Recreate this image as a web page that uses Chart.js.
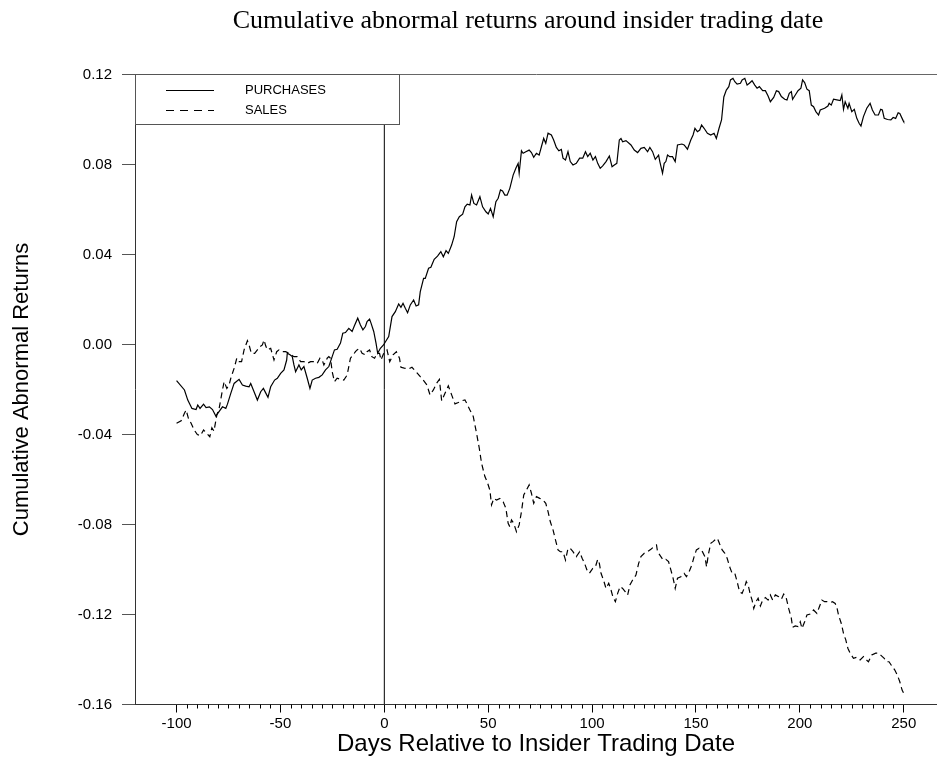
<!DOCTYPE html>
<html>
<head>
<meta charset="utf-8">
<title>Cumulative abnormal returns around insider trading date</title>
<script src="https://cdn.jsdelivr.net/npm/chart.js@4.4.1/dist/chart.umd.min.js"></script>
<style>
  html, body { margin: 0; padding: 0; background: #fff; }
  #wrap { width: 937px; height: 767px; }
</style>
</head>
<body>
<div id="wrap"><canvas id="carChart" width="937" height="767"></canvas></div>
<script>
// days relative to the insider trade
const purchaseDays = [
  -100, -96.2, -94.6, -92.6, -90.6, -89.8, -88.7, -87.0, -85.8, -84.2, -82.7, -81.1, -79.9, -77.9, -76.3, -75.5,
  -73.9, -72.3, -69.9, -68.3, -66.7, -65.1, -64.3, -62.7, -61.1, -59.5, -58.2, -57.1, -56.0, -54.7, -52.8, -51.5,
  -49.9, -48.3, -47.0, -46.7, -45.4, -44.3, -43.5, -42.7, -41.1, -40.0, -38.7, -37.1, -35.8, -34.7, -33.1, -31.5,
  -29.9, -28.3, -26.7, -25.1, -24.0, -22.7, -21.1, -20.0, -18.7, -17.1, -15.5, -14.4, -12.8, -11.5, -10.3, -9.1,
  -8.3, -7.1, -6.4, -5.1, -4.0, -3.2, -1.9, -0.4, 2.1, 3.7, 5.3, 6.9, 8.0, 9.0, 10.1, 11.2,
  12.5, 14.1, 15.3, 16.5, 17.3, 18.9, 19.7, 21.3, 22.4, 24.0, 25.6, 27.2, 28.4, 29.7, 30.8, 32.4,
  33.6, 34.8, 36.1, 37.7, 38.8, 39.9, 41.2, 42.0, 43.1, 44.4, 46.0, 47.3, 48.9, 50.0, 51.1, 52.4,
  53.7, 54.8, 55.9, 56.9, 58.0, 59.1, 60.4, 62.0, 63.3, 64.4, 64.9, 66.0, 66.8, 68.1, 69.7, 70.8,
  71.9, 73.2, 74.5, 75.6, 76.7, 77.7, 78.8, 80.4, 81.5, 82.8, 84.0, 85.2, 86.0, 87.2, 88.4, 89.5,
  90.8, 92.4, 94.0, 95.5, 96.8, 97.9, 99.1, 100.4, 101.6, 102.7, 103.9, 105.1, 106.7, 108.3, 109.6, 110.7,
  111.9, 113.1, 113.9, 114.7, 116.3, 118.7, 120.3, 121.9, 123.5, 125.1, 126.7, 127.8, 129.1, 130.4, 132.0, 132.6,
  133.9, 134.7, 135.5, 136.3, 137.4, 138.7, 140.0, 141.1, 143.2, 144.3, 145.9, 147.5, 148.6, 149.5, 150.7, 151.8,
  152.7, 153.9, 155.5, 157.1, 158.7, 159.8, 161.1, 162.3, 163.4, 164.6, 165.8, 166.6, 167.8, 168.7, 169.8, 171.4,
  172.2, 173.5, 174.6, 175.7, 177.0, 178.3, 179.4, 180.5, 182.1, 183.4, 184.7, 185.8, 187.4, 188.7, 189.8, 191.1,
  192.7, 193.8, 194.9, 195.9, 196.5, 197.8, 199.1, 200.5, 201.3, 202.3, 203.4, 204.5, 205.5, 206.6, 207.7, 209.0,
  209.8, 211.9, 213.5, 214.1, 215.1, 216.2, 217.8, 219.4, 220.2, 221.0, 221.8, 223.1, 223.7, 225.0, 226.2, 227.4,
  228.5, 229.4, 230.6, 232.2, 233.8, 234.9, 236.2, 237.8, 238.9, 239.7, 240.6, 242.2, 243.8, 244.9, 246.1, 247.3,
  248.1, 249.7, 250
];
const purchaseCar = [
  -0.0161, -0.0202, -0.0247, -0.0284, -0.0289, -0.0269, -0.0284, -0.0265, -0.0280, -0.0277, -0.0289, -0.0318, -0.0303, -0.0277, -0.0284, -0.0265,
  -0.0217, -0.0173, -0.0155, -0.0180, -0.0185, -0.0188, -0.0173, -0.0210, -0.0247, -0.0210, -0.0195, -0.0215, -0.0235, -0.0188, -0.0158, -0.0150,
  -0.0128, -0.0113, -0.0069, -0.0039, -0.0046, -0.0054, -0.0091, -0.0121, -0.0091, -0.0113, -0.0098, -0.0150, -0.0195, -0.0158, -0.0150, -0.0146,
  -0.0135, -0.0113, -0.0098, -0.0054, -0.0024, -0.0021, 0.0006, 0.0050, 0.0053, 0.0072, 0.0058, 0.0083, 0.0117, 0.0087, 0.0065, 0.0080,
  0.0102, 0.0113, 0.0095, 0.0058, 0.0006, -0.0039, -0.0017, -0.0002, 0.0035, 0.0124, 0.0146, 0.0180, 0.0165, 0.0183, 0.0161, 0.0141,
  0.0176, 0.0198, 0.0171, 0.0176, 0.0235, 0.0294, 0.0294, 0.0339, 0.0343, 0.0379, 0.0393, 0.0413, 0.0390, 0.0417, 0.0405, 0.0442,
  0.0479, 0.0546, 0.0568, 0.0579, 0.0612, 0.0624, 0.0620, 0.0664, 0.0627, 0.0620, 0.0657, 0.0612, 0.0590, 0.0580, 0.0605, 0.0568,
  0.0635, 0.0650, 0.0687, 0.0682, 0.0664, 0.0664, 0.0694, 0.0753, 0.0783, 0.0805, 0.0761, 0.0861, 0.0850, 0.0857, 0.0864, 0.0853,
  0.0832, 0.0850, 0.0842, 0.0879, 0.0916, 0.0894, 0.0939, 0.0931, 0.0909, 0.0876, 0.0861, 0.0867, 0.0828, 0.0820, 0.0857, 0.0813,
  0.0798, 0.0805, 0.0828, 0.0828, 0.0857, 0.0835, 0.0850, 0.0820, 0.0835, 0.0805, 0.0783, 0.0794, 0.0813, 0.0838, 0.0790, 0.0798,
  0.0805, 0.0909, 0.0916, 0.0901, 0.0906, 0.0887, 0.0864, 0.0853, 0.0872, 0.0876, 0.0857, 0.0876, 0.0857, 0.0823, 0.0842, 0.0813,
  0.0761, 0.0805, 0.0813, 0.0842, 0.0835, 0.0835, 0.0813, 0.0887, 0.0891, 0.0887, 0.0868, 0.0909, 0.0931, 0.0961, 0.0946, 0.0953,
  0.0976, 0.0961, 0.0939, 0.0931, 0.0939, 0.0916, 0.0961, 0.0998, 0.1100, 0.1131, 0.1146, 0.1176, 0.1183, 0.1168, 0.1157, 0.1161,
  0.1176, 0.1183, 0.1153, 0.1161, 0.1172, 0.1153, 0.1139, 0.1146, 0.1128, 0.1128, 0.1104, 0.1079, 0.1098, 0.1128, 0.1124, 0.1102,
  0.1090, 0.1087, 0.1116, 0.1124, 0.1090, 0.1109, 0.1128, 0.1139, 0.1176, 0.1164, 0.1135, 0.1128, 0.1064, 0.1057, 0.1035, 0.1020,
  0.1042, 0.1050, 0.1060, 0.1072, 0.1064, 0.1090, 0.1087, 0.1084, 0.1109, 0.1045, 0.1079, 0.1050, 0.1072, 0.1035, 0.1045, 0.1005,
  0.0983, 0.0971, 0.1013, 0.1050, 0.1072, 0.1042, 0.1020, 0.1020, 0.1045, 0.1042, 0.1005, 0.1000, 0.0998, 0.1009, 0.1005, 0.1030,
  0.1027, 0.0995, 0.0990
];

const saleDays = [
  -100, -97.8, -96.2, -95.4, -94.3, -93.0, -91.5, -90.0, -88.5, -87.0, -85.5, -84.0, -83.0, -82.0, -80.6, -79.5,
  -77.9, -77.1, -75.8, -74.7, -73.9, -72.3, -71.0, -69.9, -68.7, -67.5, -65.9, -65.1, -64.0, -62.4, -61.1, -59.8,
  -58.7, -57.9, -57.1, -56.3, -54.7, -53.1, -51.8, -50.7, -49.1, -47.5, -45.9, -44.8, -43.5, -41.9, -40.3, -38.7,
  -37.1, -35.5, -33.9, -32.3, -31.0, -29.9, -29.1, -27.5, -26.7, -25.9, -25.1, -24.0, -22.7, -21.1, -19.5, -17.9,
  -17.1, -16.3, -15.0, -13.9, -13.1, -11.9, -10.7, -9.1, -8.3, -7.1, -6.0, -4.7, -3.5, -2.3, -1.6, -0.3,
  1.3, 2.6, 4.2, 5.8, 7.3, 8.0, 9.6, 11.7, 13.3, 15.3, 17.3, 18.5, 20.5, 22.0, 23.6, 25.2,
  26.5, 27.6, 29.2, 30.8, 32.4, 34.0, 35.6, 37.2, 38.8, 40.0, 41.2, 42.8, 44.4, 45.7, 46.8, 48.4,
  49.5, 50.8, 51.6, 52.7, 54.0, 55.6, 57.2, 58.5, 59.6, 60.4, 61.2, 62.3, 63.6, 64.9, 66.0, 67.1,
  68.4, 69.7, 70.8, 71.9, 73.2, 74.8, 76.4, 77.7, 78.8, 79.9, 81.2, 82.4, 83.6, 84.7, 86.0, 87.2,
  88.4, 89.5, 90.8, 92.4, 94.0, 95.2, 96.4, 97.5, 98.7, 100.3, 101.6, 102.7, 103.5, 104.3, 105.5, 106.7,
  108.0, 109.1, 110.0, 111.2, 112.3, 113.5, 114.7, 116.0, 117.1, 118.2, 119.5, 121.1, 122.4, 123.5, 125.1, 126.7,
  128.3, 129.9, 131.0, 131.5, 133.1, 134.2, 135.5, 136.8, 137.9, 139.0, 140.0, 141.1, 142.7, 144.3, 145.4, 146.7,
  148.0, 149.1, 150.2, 151.5, 153.1, 154.3, 155.1, 155.9, 157.1, 158.2, 159.1, 160.3, 161.4, 162.6, 163.9, 165.0,
  166.2, 167.4, 168.7, 169.8, 171.0, 172.2, 173.5, 174.2, 175.1, 176.2, 177.0, 177.8, 178.9, 179.9, 181.0, 182.1,
  183.4, 184.7, 185.8, 186.9, 188.2, 189.8, 191.1, 192.2, 193.3, 194.6, 195.9, 196.5, 197.8, 199.1, 200.2, 201.0,
  202.3, 203.4, 205.0, 206.6, 208.2, 209.3, 210.6, 211.9, 213.0, 214.6, 215.7, 217.0, 217.8, 218.6, 219.9, 221.0,
  222.1, 223.1, 224.2, 225.8, 227.4, 229.0, 230.6, 231.7, 233.0, 234.6, 236.5, 237.7, 239.3, 240.6, 241.7, 242.9,
  244.5, 245.7, 246.9, 248.1, 249.2, 250
];
const saleCar = [
  -0.0350, -0.0339, -0.0306, -0.0291, -0.0328, -0.0350, -0.0380, -0.0400, -0.0405, -0.0380, -0.0395, -0.0410, -0.0370, -0.0385, -0.0313, -0.0284,
  -0.0202, -0.0165, -0.0195, -0.0180, -0.0150, -0.0106, -0.0061, -0.0076, -0.0076, -0.0024, 0.0017, -0.0002, -0.0039, -0.0039, -0.0024, -0.0009,
  -0.0002, 0.0020, -0.0006, -0.0024, -0.0017, -0.0069, -0.0032, -0.0024, -0.0032, -0.0032, -0.0039, -0.0046, -0.0054, -0.0054, -0.0076, -0.0076,
  -0.0084, -0.0076, -0.0076, -0.0084, -0.0061, -0.0069, -0.0091, -0.0061, -0.0054, -0.0061, -0.0121, -0.0165, -0.0150, -0.0155, -0.0158, -0.0136,
  -0.0098, -0.0061, -0.0046, -0.0032, -0.0024, -0.0017, -0.0039, -0.0046, -0.0032, -0.0024, -0.0054, -0.0061, -0.0039, -0.0039, -0.0069, -0.0039,
  -0.0024, -0.0076, -0.0046, -0.0032, -0.0061, -0.0101, -0.0105, -0.0109, -0.0101, -0.0121, -0.0143, -0.0155, -0.0180, -0.0224, -0.0202, -0.0172,
  -0.0155, -0.0250, -0.0217, -0.0184, -0.0224, -0.0264, -0.0258, -0.0250, -0.0246, -0.0268, -0.0291, -0.0320, -0.0395, -0.0461, -0.0528, -0.0587,
  -0.0610, -0.0647, -0.0713, -0.0684, -0.0691, -0.0684, -0.0699, -0.0728, -0.0795, -0.0810, -0.0780, -0.0795, -0.0832, -0.0802, -0.0743, -0.0669,
  -0.0647, -0.0624, -0.0661, -0.0706, -0.0676, -0.0684, -0.0691, -0.0706, -0.0743, -0.0788, -0.0824, -0.0869, -0.0913, -0.0921, -0.0921, -0.0958,
  -0.0906, -0.0906, -0.0921, -0.0943, -0.0921, -0.0950, -0.0973, -0.1002, -0.1017, -0.0995, -0.0988, -0.0955, -0.0973, -0.1017, -0.1047, -0.1084,
  -0.1061, -0.1091, -0.1121, -0.1143, -0.1106, -0.1076, -0.1084, -0.1099, -0.1114, -0.1069, -0.1047, -0.1025, -0.0973, -0.0943, -0.0928, -0.0921,
  -0.0910, -0.0898, -0.0891, -0.0921, -0.0943, -0.0958, -0.0955, -0.0965, -0.1002, -0.1039, -0.1084, -0.1039, -0.1032, -0.1017, -0.1032, -0.1010,
  -0.0980, -0.0943, -0.0913, -0.0906, -0.0921, -0.0943, -0.0988, -0.0936, -0.0884, -0.0876, -0.0869, -0.0861, -0.0887, -0.0913, -0.0928, -0.0950,
  -0.0988, -0.1017, -0.1017, -0.1054, -0.1099, -0.1106, -0.1076, -0.1054, -0.1069, -0.1113, -0.1136, -0.1173, -0.1143, -0.1128, -0.1162, -0.1136,
  -0.1125, -0.1136, -0.1113, -0.1136, -0.1113, -0.1121, -0.1132, -0.1109, -0.1121, -0.1173, -0.1217, -0.1257, -0.1251, -0.1254, -0.1232, -0.1262,
  -0.1232, -0.1202, -0.1198, -0.1180, -0.1195, -0.1168, -0.1136, -0.1143, -0.1143, -0.1147, -0.1143, -0.1151, -0.1168, -0.1202, -0.1239, -0.1284,
  -0.1313, -0.1350, -0.1372, -0.1395, -0.1390, -0.1402, -0.1387, -0.1399, -0.1410, -0.1380, -0.1372, -0.1372, -0.1384, -0.1395, -0.1410, -0.1410,
  -0.1432, -0.1447, -0.1469, -0.1499, -0.1536, -0.1550
];

const seriesNames = ['PURCHASES', 'SALES'];
const xMajorTicks = [-100, -50, 0, 50, 100, 150, 200, 250];
const xMinorStep = 5;
const yTicks = [-0.16, -0.12, -0.08, -0.04, 0.00, 0.04, 0.08, 0.12];
const eventDay = 0;

const SANS = "'Liberation Sans', Arial, sans-serif";
const SERIF = "'Liberation Serif', 'Times New Roman', serif";

function toPoints(xs, ys) {
  return xs.map((x, i) => ({ x, y: ys[i] }));
}

const isMajor = v => xMajorTicks.some(t => Math.abs(t - v) < 1e-6);
const yTop = yTicks[yTicks.length - 1];

// title, boxed legend and the short minor ticks on the day axis
const decorPlugin = {
  id: 'decor',
  afterDraw(chart) {
    const { ctx, chartArea } = chart;
    const xs = chart.scales.x;

    ctx.save();
    // minor tick marks
    ctx.strokeStyle = '#000';
    ctx.lineWidth = 1;
    xs.ticks.forEach(t => {
      if (isMajor(t.value)) return;
      const px = Math.round(xs.getPixelForValue(t.value)) + 0.5;
      ctx.beginPath();
      ctx.moveTo(px, chartArea.bottom);
      ctx.lineTo(px, chartArea.bottom + 4);
      ctx.stroke();
    });

    // legend box
    const bx = chartArea.left + 0.5, by = chartArea.top, bw = 264, bh = 50;
    ctx.fillStyle = '#fff';
    ctx.fillRect(bx, by, bw, bh);
    ctx.strokeStyle = '#555';
    ctx.strokeRect(bx, by, bw, bh);

    ctx.strokeStyle = '#000';
    ctx.lineWidth = 1;
    [[90.5, []], [110.5, [8, 6]]].forEach(([ly, dash], i) => {
      ctx.setLineDash(dash);
      ctx.beginPath();
      ctx.moveTo(166, ly);
      ctx.lineTo(214, ly);
      ctx.stroke();
      ctx.setLineDash([]);
      ctx.fillStyle = '#000';
      ctx.font = '13px ' + SANS;
      ctx.textAlign = 'left';
      ctx.textBaseline = 'middle';
      ctx.fillText(seriesNames[i], 245, ly);
    });

    // chart title
    ctx.font = '26px ' + SERIF;
    ctx.textAlign = 'center';
    ctx.textBaseline = 'middle';
    ctx.fillText('Cumulative abnormal returns around insider trading date', 528, 21);
    ctx.restore();
  }
};

new Chart(document.getElementById('carChart'), {
  type: 'line',
  data: {
    datasets: [
      {
        label: seriesNames[0],
        data: toPoints(purchaseDays, purchaseCar),
        borderColor: '#000',
        borderWidth: 1.2,
        pointRadius: 0,
        tension: 0
      },
      {
        label: seriesNames[1],
        data: toPoints(saleDays, saleCar),
        borderColor: '#000',
        borderWidth: 1.2,
        borderDash: [6, 4],
        pointRadius: 0,
        tension: 0
      },
      {
        label: 'event',
        data: [{ x: eventDay, y: yTicks[0] }, { x: eventDay, y: yTop }],
        borderColor: '#000',
        borderWidth: 1,
        pointRadius: 0
      }
    ]
  },
  options: {
    responsive: false,
    devicePixelRatio: 1,
    animation: false,
    layout: { padding: { top: 74.5, left: 0, right: 0, bottom: 0 } },
    plugins: {
      legend: { display: false },
      title: { display: false },
      tooltip: { enabled: false }
    },
    scales: {
      x: {
        type: 'linear',
        min: -120,
        max: 266,
        afterBuildTicks: scale => {
          const ticks = [];
          for (let v = xMajorTicks[0]; v <= xMajorTicks[xMajorTicks.length - 1]; v += xMinorStep) {
            ticks.push({ value: v });
          }
          scale.ticks = ticks;
        },
        afterFit: scale => { scale.height = 62.5; },
        border: { display: true, color: '#333', width: 1 },
        grid: {
          drawOnChartArea: false,
          tickLength: 8,
          tickColor: c => (c.tick && isMajor(c.tick.value) ? '#000' : 'rgba(0,0,0,0)')
        },
        ticks: {
          autoSkip: false,
          maxRotation: 0,
          padding: 2,
          color: '#000',
          font: { family: SANS, size: 15 },
          callback: v => (isMajor(v) ? String(v) : '')
        },
        title: {
          display: true,
          text: 'Days Relative to Insider Trading Date',
          color: '#000',
          font: { family: SANS, size: 24 },
          padding: { top: 0, bottom: 8 }
        }
      },
      y: {
        type: 'linear',
        min: yTicks[0],
        max: yTop,
        afterBuildTicks: scale => { scale.ticks = yTicks.map(v => ({ value: v })); },
        afterFit: scale => { scale.width = 135; },
        border: { display: true, color: '#333', width: 1 },
        grid: {
          drawOnChartArea: true,
          tickLength: 13,
          tickColor: '#555',
          color: c => (c.tick && Math.abs(c.tick.value - yTop) < 1e-9 ? '#666' : 'rgba(0,0,0,0)')
        },
        ticks: {
          padding: 10,
          color: '#000',
          font: { family: SANS, size: 15 },
          callback: v => v.toFixed(2)
        },
        title: {
          display: true,
          text: 'Cumulative Abnormal Returns',
          color: '#000',
          font: { family: SANS, size: 22 },
          padding: { top: 9, bottom: 0 }
        }
      }
    }
  },
  plugins: [decorPlugin]
});
</script>
</body>
</html>
